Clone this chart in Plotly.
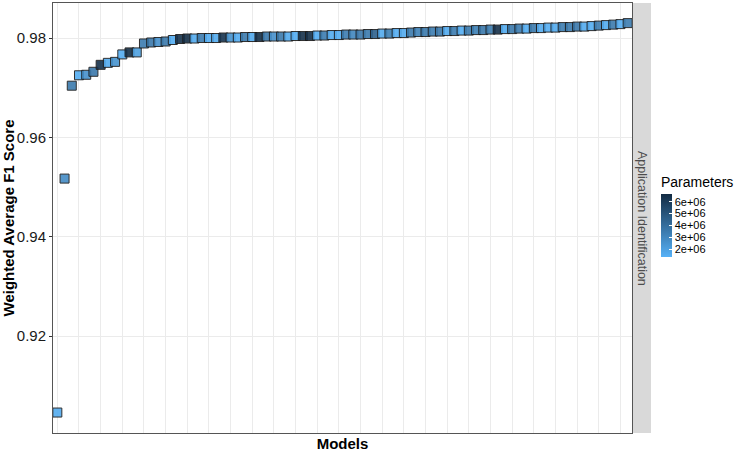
import plotly.graph_objects as go

# ---- data ----
models = [f"Model {i}" for i in range(1, 81)]
f1_scores = [
    0.9046, 0.9517, 0.9704, 0.9725, 0.9726, 0.9732, 0.9746, 0.9750, 0.9752, 0.9767,
    0.9771, 0.9771, 0.9789, 0.9791, 0.9792, 0.9793, 0.9796, 0.9798, 0.9799, 0.9799,
    0.9800, 0.9800, 0.9800, 0.9801, 0.9801, 0.9801, 0.9802, 0.9802, 0.9802, 0.9803,
    0.9803, 0.9803, 0.9803, 0.9804, 0.9804, 0.9804, 0.9805, 0.9805, 0.9806, 0.9806,
    0.9807, 0.9807, 0.9807, 0.9808, 0.9808, 0.9809, 0.9809, 0.9810, 0.9810, 0.9811,
    0.9812, 0.9812, 0.9813, 0.9813, 0.9814, 0.9814, 0.9815, 0.9815, 0.9816, 0.9816,
    0.9817, 0.9817, 0.9818, 0.9818, 0.9819, 0.9819, 0.9820, 0.9820, 0.9821, 0.9821,
    0.9822, 0.9822, 0.9823, 0.9823, 0.9824, 0.9825, 0.9826, 0.9827, 0.9828, 0.9830,
]
parameters = [
    1.6e6, 2.8e6, 3.5e6, 1.5e6, 2.6e6, 3.6e6, 6.4e6, 1.6e6, 2.5e6, 1.5e6,
    6.5e6, 2.0e6, 3.4e6, 3.6e6, 2.6e6, 3.5e6, 1.5e6, 6.4e6, 6.5e6, 1.6e6,
    3.4e6, 1.5e6, 1.6e6, 6.3e6, 2.5e6, 1.5e6, 3.5e6, 1.6e6, 6.5e6, 3.6e6,
    2.6e6, 3.5e6, 1.6e6, 1.5e6, 6.4e6, 6.5e6, 1.5e6, 3.4e6, 1.6e6, 1.5e6,
    3.4e6, 3.0e6, 3.6e6, 3.5e6, 4.5e6, 1.6e6, 3.3e6, 1.5e6, 1.6e6, 3.5e6,
    3.2e6, 3.5e6, 3.4e6, 3.6e6, 1.6e6, 3.4e6, 1.5e6, 3.5e6, 3.3e6, 3.6e6,
    3.4e6, 6.4e6, 1.6e6, 3.5e6, 3.4e6, 1.5e6, 3.5e6, 1.6e6, 1.5e6, 1.6e6,
    3.4e6, 3.5e6, 3.6e6, 1.6e6, 1.5e6, 3.4e6, 1.6e6, 3.5e6, 1.5e6, 3.4e6,
]
cbar_ticks = [2e6, 3e6, 4e6, 5e6, 6e6]
cbar_labels = ["2e+06", "3e+06", "4e+06", "5e+06", "6e+06"]
facet_label = "Application Identification"

W, H = 747, 454
L, R, T, B = 53, 632, 3, 433
pw, ph = R - L, B - T

fig = go.Figure()
fig.add_trace(go.Scatter(
    x=models, y=f1_scores, mode="markers",
    marker=dict(
        symbol="square", size=9, color=parameters,
        colorscale=[[0, "#56B1F7"], [1, "#132B43"]],
        cmin=1.35e6, cmax=6.65e6, opacity=0.9,
        line=dict(color="#1a1a1a", width=1),
        colorbar=dict(
            title=dict(text="Parameters", side="top",
                       font=dict(size=14, color="#000000")),
            tickvals=cbar_ticks, ticktext=cbar_labels,
            tickfont=dict(size=11, color="#000000"),
            thickness=11, len=83.5, lenmode="pixels",
            xpad=0, ypad=0,
            x=(661 - L) / pw, xanchor="left",
            y=(B - 173) / ph, yanchor="top",
            outlinewidth=0, ticks="inside", ticklen=3, tickcolor="#ffffff",
        ),
    ),
    showlegend=False,
))

fig.update_layout(
    width=W, height=H,
    margin=dict(l=L, r=W - R, t=T, b=H - B, autoexpand=False),
    paper_bgcolor="white", plot_bgcolor="white",
    font=dict(family="Liberation Sans, Arial, sans-serif", color="#000000"),
    xaxis=dict(
        type="category", range=[-0.6, 79.6], showticklabels=False,
        ticks="", showgrid=True, gridcolor="#EBEBEB", gridwidth=1,
        showline=True, linecolor="#555555", linewidth=1, mirror=True,
        title=dict(text="<b>Models</b>", font=dict(size=15), standoff=5),
        zeroline=False, automargin=False,
    ),
    yaxis=dict(
        range=[0.90048, 0.98705], tickvals=[0.92, 0.94, 0.96, 0.98],
        ticktext=["0.92", "0.94", "0.96", "0.98"],
        tickfont=dict(size=15, color="#1a1a1a"), ticks="outside", ticklen=3,
        tickcolor="#333333", showgrid=True, gridcolor="#EBEBEB",
        showline=True, linecolor="#555555", linewidth=1, mirror=True,
        title=dict(text="<b>Weighted Average F1 Score</b>", font=dict(size=15), standoff=6),
        zeroline=False, automargin=False,
    ),
    shapes=[dict(
        type="rect", xref="paper", yref="paper",
        x0=1 + 1 / pw, x1=1 + 19 / pw, y0=0, y1=1,
        fillcolor="#D9D9D9", line=dict(width=0), layer="below",
    )],
    annotations=[dict(
        text=facet_label, xref="paper", yref="paper",
        x=1 + 10 / pw, y=0.5, showarrow=False, textangle=90,
        font=dict(size=12.5, color="#4D4D4D"),
        xanchor="center", yanchor="middle",
    )],
)

fig.write_html(
    "out.html",
    config={"displayModeBar": False},
    post_script="document.body.style.margin='0px';document.body.style.overflow='hidden';",
)
